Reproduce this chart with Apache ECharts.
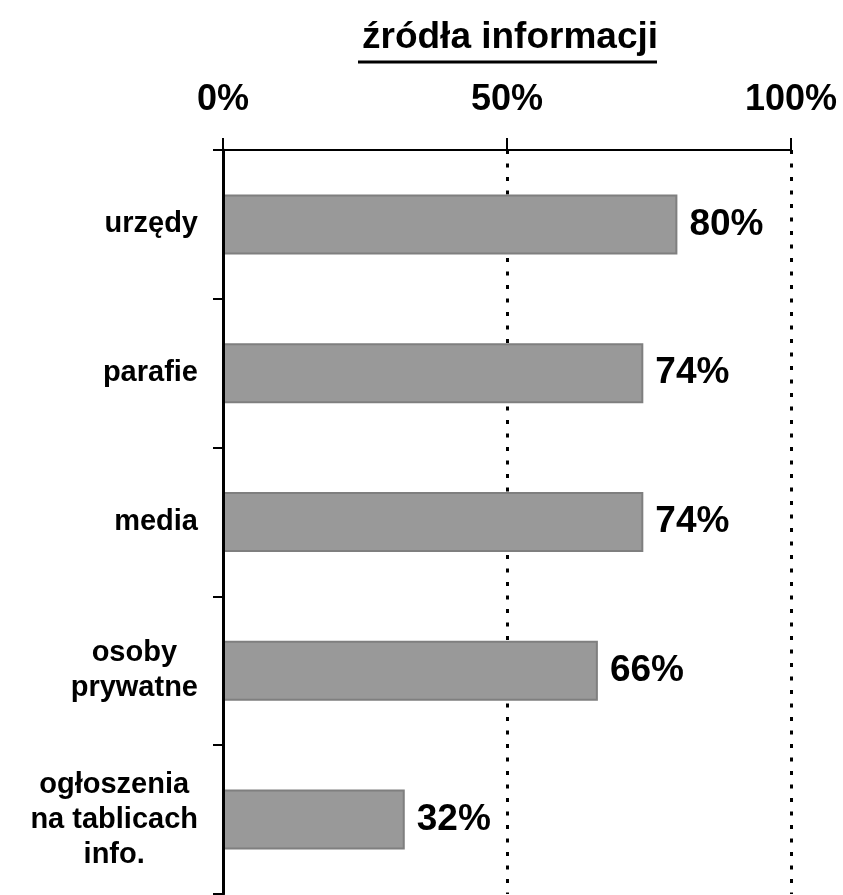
<!DOCTYPE html>
<html>
<head>
<meta charset="utf-8">
<script src="https://cdn.jsdelivr.net/npm/echarts@6/dist/echarts.min.js"></script>
<style>
    html, body {margin: 0; padding: 0; background: #fff;}
    #chart {width: 843px; height: 895px;}
</style>
</head>
<body>
<div id="chart"></div>
<script>
var categories = ['urzędy', 'parafie', 'media', 'osoby\nprywatne', 'ogłoszenia\nna tablicach\ninfo.']
var values = [80, 74, 74, 66, 32]
var xTicks = [0, 50, 100]
var chartTitle = 'źródła informacji'

var myChart = echarts.init(document.getElementById('chart'))
var font = '"Liberation Sans", Arial, Helvetica, sans-serif'

var option = {
    backgroundColor: '#fff',
    animation: false,
    title: {
        text: chartTitle,
        left: 357,
        top: 14,
        textStyle: {
            fontFamily: font,
            fontWeight: 'bold',
            fontSize: 37,
            color: '#000'
        }
    },
    graphic: [{
        type: 'line',
        shape: {x1: 358, y1: 62, x2: 657, y2: 62},
        style: {stroke: '#000', lineWidth: 3}
    }],
    grid: {
        left: 223,
        right: 52,
        top: 150,
        bottom: 1
    },
    xAxis: {
        type: 'value',
        position: 'top',
        min: xTicks[0],
        max: xTicks[xTicks.length - 1],
        interval: 50,
        z: 2,
        axisLine: {show: true, lineStyle: {color: '#000', width: 2}},
        axisTick: {show: true, length: 12, lineStyle: {color: '#000', width: 2}},
        axisLabel: {
            margin: 32,
            formatter: '{value}%',
            fontFamily: font,
            fontWeight: 'bold',
            fontSize: 36,
            color: '#000'
        },
        splitLine: {
            show: true,
            lineStyle: {color: '#000', width: 3, type: [4, 9.5]}
        }
    },
    yAxis: {
        type: 'category',
        inverse: true,
        data: categories,
        z: 10,
        axisLine: {show: true, lineStyle: {color: '#000', width: 3}},
        axisTick: {show: true, length: 10, lineStyle: {color: '#000', width: 2}},
        axisLabel: {
            margin: 25,
            align: 'right',
            formatter: function (val) {
                return val.split('\n').map(function (l) {
                    return '{c|' + l + '}'
                }).join('\n')
            },
            rich: {
                c: {
                    align: 'center',
                    fontFamily: font,
                    fontWeight: 'bold',
                    fontSize: 29,
                    lineHeight: 35,
                    color: '#000'
                }
            }
        }
    },
    series: [{
        type: 'bar',
        data: values,
        barWidth: 60,
        itemStyle: {color: '#999999', borderColor: '#7f7f7f', borderWidth: 2},
        label: {
            show: true,
            position: 'right',
            distance: 12,
            formatter: '{c}%',
            fontFamily: font,
            fontWeight: 'bold',
            fontSize: 37,
            color: '#000'
        }
    }]
}

myChart.setOption(option)
</script>
</body>
</html>
